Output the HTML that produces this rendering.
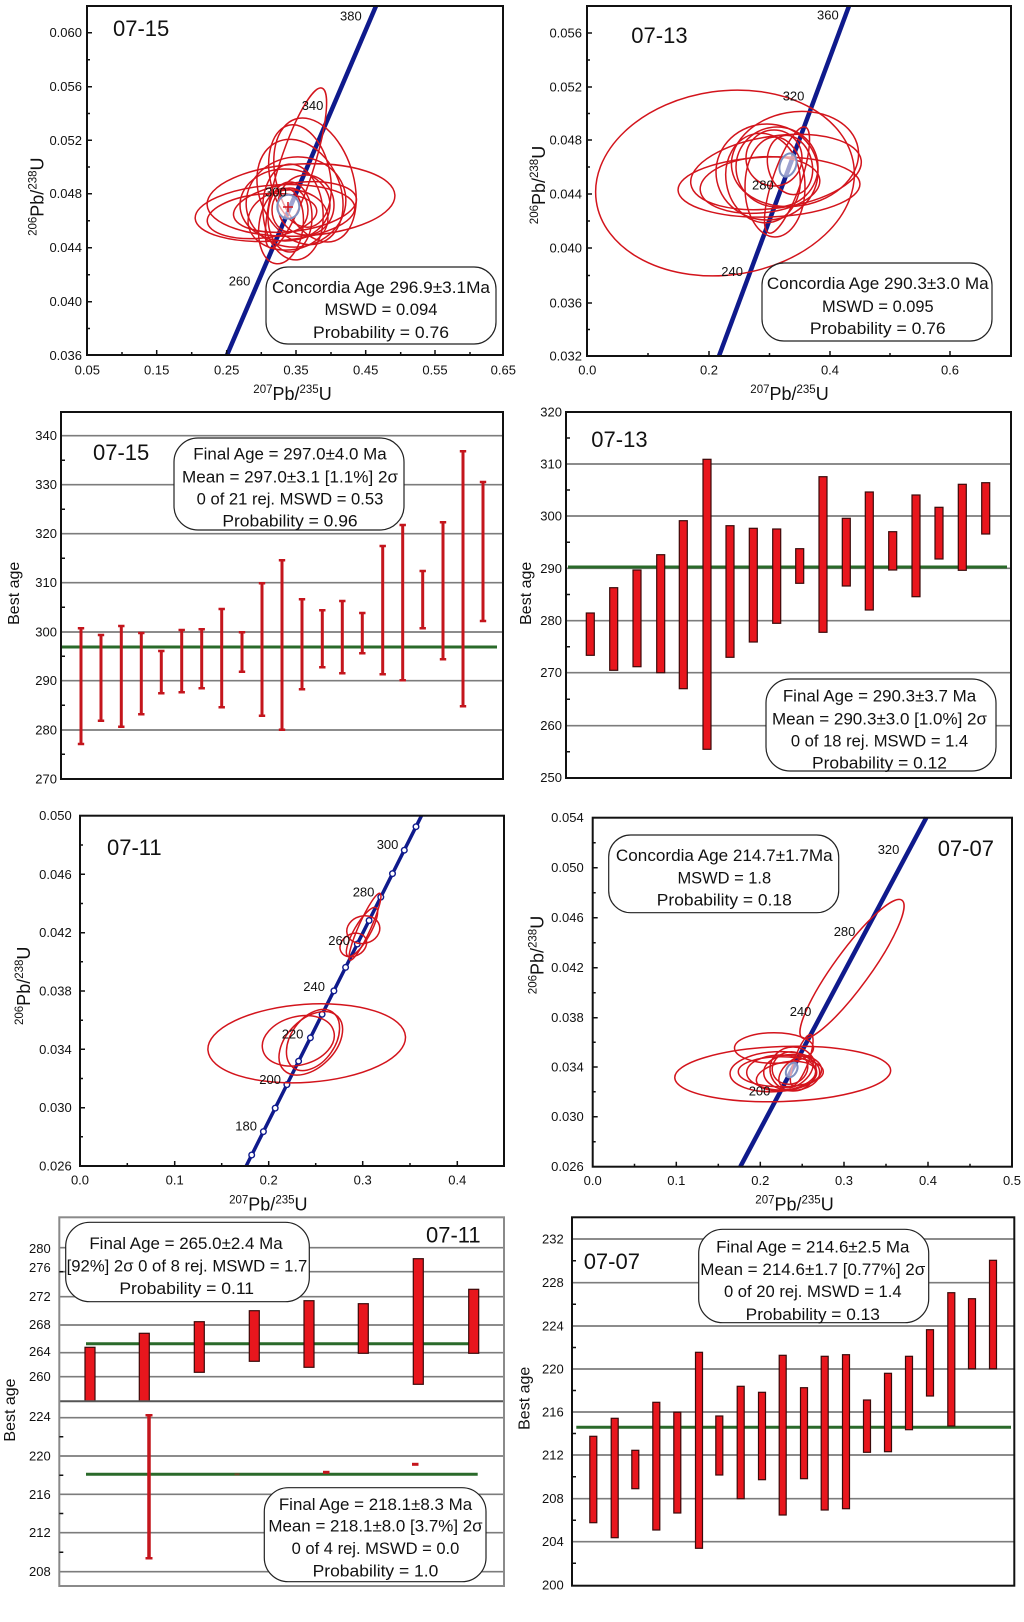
<!DOCTYPE html>
<html><head><meta charset="utf-8">
<style>
html,body{margin:0;padding:0;background:#fff;}
svg{display:block;}
text{font-family:"Liberation Sans",sans-serif;fill:#111;}
.tk{font-size:13px;}
.tr{text-anchor:end;}
.tm{text-anchor:middle;}
.sm{font-size:22px;}
.bx{font-size:17px;text-anchor:middle;}
.cl{font-size:13px;}
.el ellipse{fill:none;stroke:#d3141c;stroke-width:1.5;}
.fr{fill:none;stroke:#111;stroke-width:2;}
.tkp{stroke:#111;stroke-width:1.5;fill:none;}
.gr{stroke:#7c7c7c;stroke-width:1.7;}
.box{fill:#fff;stroke:#222;stroke-width:1.2;}
.cc{stroke:#0f1a8c;stroke-width:4.5;stroke-linecap:butt;}
.gl{stroke:#2a6a2a;stroke-width:3;}
.rb{fill:#e8161d;stroke:#3a0a0a;stroke-width:1.2;}
.eb{stroke:#c4151c;stroke-width:3;}
.ec{stroke:#c4151c;stroke-width:2.5;}
.ce{fill:#fff;fill-opacity:0.6;stroke:#7f8fc0;stroke-width:2;}
</style></head>
<body>
<svg width="1024" height="1622" viewBox="0 0 1024 1622" xmlns="http://www.w3.org/2000/svg">
<rect width="1024" height="1622" fill="#fff"/>

<!-- ================= PANEL 1 (07-15 concordia) ================= -->
<line class="cc" x1="227" y1="355" x2="376" y2="6"/>
<g class="el">
<ellipse cx="275" cy="213" rx="80" ry="28" transform="rotate(-4 275 213)"/>
<ellipse cx="301" cy="200" rx="94" ry="36" transform="rotate(-3 301 200)"/>
<ellipse cx="262" cy="216" rx="55" ry="22" transform="rotate(-6 262 216)"/>
<ellipse cx="296" cy="168" rx="84" ry="17" transform="rotate(-72 296 168)"/>
<ellipse cx="315" cy="180" rx="38" ry="64" transform="rotate(-18 315 180)"/>
<ellipse cx="300" cy="176" rx="30" ry="52" transform="rotate(-12 300 176)"/>
<ellipse cx="285" cy="205" rx="45" ry="36"/>
<ellipse cx="293" cy="212" rx="30" ry="48" transform="rotate(-5 293 212)"/>
<ellipse cx="290" cy="217" rx="22" ry="35"/>
<ellipse cx="306" cy="205" rx="28" ry="30"/>
<ellipse cx="281" cy="226" rx="22" ry="38" transform="rotate(8 281 226)"/>
<ellipse cx="295" cy="207" rx="62" ry="24" transform="rotate(-8 295 207)"/>
<ellipse cx="300" cy="192" rx="40" ry="55" transform="rotate(-25 300 192)"/>
<ellipse cx="290" cy="210" rx="18" ry="22"/>
<ellipse cx="296" cy="202" rx="50" ry="45" transform="rotate(-10 296 202)"/>
<ellipse cx="288" cy="220" rx="40" ry="30" transform="rotate(-5 288 220)"/>
</g>
<ellipse class="ce" cx="288.3" cy="206.7" rx="11" ry="12"/>
<path d="M283 207h10M288 202v10" stroke="#d3141c" stroke-width="1.5"/>
<rect class="fr" x="87" y="6" width="416" height="349"/>
<path class="tkp" d="M87 32.7h5M87 86.7h5M87 140.3h5M87 193.7h5M87 247.7h5M87 301.7h5M87 59.7h3M87 113.5h3M87 167h3M87 220.7h3M87 274.7h3M87 328.5h3M156.7 355v-5M226.7 355v-5M296 355v-5M365.7 355v-5M435 355v-5M122 355v-3M191.7 355v-3M261.3 355v-3M331 355v-3M400.7 355v-3M470 355v-3"/>
<g class="tk tr">
<text x="82" y="37.2">0.060</text><text x="82" y="91.2">0.056</text><text x="82" y="144.8">0.052</text><text x="82" y="198.2">0.048</text><text x="82" y="252.2">0.044</text><text x="82" y="306.2">0.040</text><text x="82" y="359.8">0.036</text>
</g>
<g class="tk tm">
<text x="87.3" y="374.5">0.05</text><text x="156.7" y="374.5">0.15</text><text x="226.7" y="374.5">0.25</text><text x="296" y="374.5">0.35</text><text x="365.7" y="374.5">0.45</text><text x="435" y="374.5">0.55</text><text x="503.3" y="374.5">0.65</text>
</g>
<text class="sm" x="113" y="36">07-15</text>
<g class="cl"><text x="340" y="20.7">380</text><text x="301.7" y="110">340</text><text x="265" y="196.7">300</text><text x="228.7" y="285.7">260</text></g>
<rect class="box" x="266" y="267" width="230" height="77" rx="22"/>
<text class="bx" x="381" y="293" textLength="218" lengthAdjust="spacingAndGlyphs">Concordia Age 296.9±3.1Ma</text>
<text class="bx" x="381" y="315" textLength="113" lengthAdjust="spacingAndGlyphs">MSWD = 0.094</text>
<text class="bx" x="381" y="338" textLength="136" lengthAdjust="spacingAndGlyphs">Probability = 0.76</text>
<text text-anchor="middle" x="292.5" y="400"><tspan font-size="11.5" dy="-7">207</tspan><tspan font-size="18" dy="7">Pb/</tspan><tspan font-size="11.5" dy="-7">235</tspan><tspan font-size="18" dy="7">U</tspan></text>
<text text-anchor="middle" transform="translate(43.5 196.7) rotate(-90)"><tspan font-size="11.5" dy="-7">206</tspan><tspan font-size="18" dy="7">Pb/</tspan><tspan font-size="11.5" dy="-7">238</tspan><tspan font-size="18" dy="7">U</tspan></text>

<!-- ================= PANEL 2 (07-13 concordia) ================= -->
<line class="cc" x1="719" y1="356" x2="849" y2="6"/>
<g class="el">
<ellipse cx="725" cy="183" rx="130" ry="92" transform="rotate(-8 725 183)"/>
<ellipse cx="769" cy="187" rx="91" ry="30" transform="rotate(-2 769 187)"/>
<ellipse cx="776" cy="172" rx="86" ry="36" transform="rotate(-8 776 172)"/>
<ellipse cx="795" cy="159" rx="64" ry="47" transform="rotate(-10 795 159)"/>
<ellipse cx="767" cy="172" rx="51" ry="48"/>
<ellipse cx="777" cy="167" rx="41" ry="40"/>
<ellipse cx="787" cy="180" rx="56" ry="14" transform="rotate(-71 787 180)"/>
<ellipse cx="774" cy="158" rx="28" ry="28"/>
<ellipse cx="775" cy="187" rx="30" ry="50"/>
<ellipse cx="763" cy="178" rx="37" ry="45" transform="rotate(-10 763 178)"/>
<ellipse cx="790" cy="165" rx="22" ry="30" transform="rotate(-15 790 165)"/>
<ellipse cx="760" cy="185" rx="60" ry="28" transform="rotate(-5 760 185)"/>
</g>
<ellipse class="ce" cx="788" cy="165" rx="8" ry="12" transform="rotate(20 788 165)"/>
<rect class="fr" x="587" y="6" width="424" height="350"/>
<path class="tkp" d="M587 33h5M587 87h5M587 140h5M587 194h5M587 248h5M587 303h5M587 60h3M587 113.5h3M587 167h3M587 221h3M587 275.5h3M587 329.5h3M709 356v-5M830 356v-5M950 356v-5M648 356v-3M769.5 356v-3M890 356v-3"/>
<g class="tk tr">
<text x="582" y="37.5">0.056</text><text x="582" y="91.5">0.052</text><text x="582" y="144.5">0.048</text><text x="582" y="198.5">0.044</text><text x="582" y="252.5">0.040</text><text x="582" y="307.5">0.036</text><text x="582" y="360.5">0.032</text>
</g>
<g class="tk tm">
<text x="587.3" y="374.5">0.0</text><text x="709" y="374.5">0.2</text><text x="830" y="374.5">0.4</text><text x="950" y="374.5">0.6</text>
</g>
<text class="sm" x="631.3" y="43">07-13</text>
<g class="cl"><text x="817" y="19.3">360</text><text x="782.7" y="100.7">320</text><text x="752" y="189.3">280</text><text x="721.3" y="276">240</text></g>
<rect class="box" x="762" y="263" width="230" height="78" rx="22"/>
<text class="bx" x="877.8" y="289" textLength="221.7" lengthAdjust="spacingAndGlyphs">Concordia Age 290.3±3.0 Ma</text>
<text class="bx" x="877.8" y="312" textLength="111.7" lengthAdjust="spacingAndGlyphs">MSWD = 0.095</text>
<text class="bx" x="877.8" y="334" textLength="135.7" lengthAdjust="spacingAndGlyphs">Probability = 0.76</text>
<text text-anchor="middle" x="789.5" y="400"><tspan font-size="11.5" dy="-7">207</tspan><tspan font-size="18" dy="7">Pb/</tspan><tspan font-size="11.5" dy="-7">235</tspan><tspan font-size="18" dy="7">U</tspan></text>
<text text-anchor="middle" transform="translate(545 185) rotate(-90)"><tspan font-size="11.5" dy="-7">206</tspan><tspan font-size="18" dy="7">Pb/</tspan><tspan font-size="11.5" dy="-7">238</tspan><tspan font-size="18" dy="7">U</tspan></text>

<!-- ================= PANEL 3 (07-15 ages) ================= -->
<g class="gr">
<line x1="61" x2="503" y1="435.7" y2="435.7"/><line x1="61" x2="503" y1="484.7" y2="484.7"/><line x1="61" x2="503" y1="533.7" y2="533.7"/><line x1="61" x2="503" y1="582.7" y2="582.7"/><line x1="61" x2="503" y1="632" y2="632"/><line x1="61" x2="503" y1="680.7" y2="680.7"/><line x1="61" x2="503" y1="730" y2="730"/>
</g>
<line class="gl" x1="62" x2="497" y1="647" y2="647"/>
<g>
<line class="eb" x1="81" x2="81" y1="628.3" y2="744"/>
<line class="eb" x1="101" x2="101" y1="635" y2="720.7"/>
<line class="eb" x1="121.3" x2="121.3" y1="626" y2="726.7"/>
<line class="eb" x1="141.3" x2="141.3" y1="633" y2="714.3"/>
<line class="eb" x1="161.3" x2="161.3" y1="651" y2="693.3"/>
<line class="eb" x1="181.7" x2="181.7" y1="630" y2="692.3"/>
<line class="eb" x1="201.7" x2="201.7" y1="629.3" y2="688.3"/>
<line class="eb" x1="221.7" x2="221.7" y1="609" y2="707.3"/>
<line class="eb" x1="242" x2="242" y1="632.3" y2="671.7"/>
<line class="eb" x1="262" x2="262" y1="583.3" y2="715.7"/>
<line class="eb" x1="282" x2="282" y1="560.3" y2="729.7"/>
<line class="eb" x1="302" x2="302" y1="599.3" y2="689.3"/>
<line class="eb" x1="322.3" x2="322.3" y1="610.3" y2="667.3"/>
<line class="eb" x1="342.3" x2="342.3" y1="601" y2="673.3"/>
<line class="eb" x1="362.3" x2="362.3" y1="613" y2="653.3"/>
<line class="eb" x1="382.7" x2="382.7" y1="546" y2="674.3"/>
<line class="eb" x1="402.7" x2="402.7" y1="525" y2="680.3"/>
<line class="eb" x1="422.7" x2="422.7" y1="571" y2="628.3"/>
<line class="eb" x1="443" x2="443" y1="522.3" y2="659.3"/>
<line class="eb" x1="463" x2="463" y1="451.3" y2="706.3"/>
<line class="eb" x1="483" x2="483" y1="482" y2="621"/>
</g>
<path class="ec" d="M77.8 628.3h6.4M77.8 744h6.4M97.8 635h6.4M97.8 720.7h6.4M118.1 626h6.4M118.1 726.7h6.4M138.1 633h6.4M138.1 714.3h6.4M158.1 651h6.4M158.1 693.3h6.4M178.5 630h6.4M178.5 692.3h6.4M198.5 629.3h6.4M198.5 688.3h6.4M218.5 609h6.4M218.5 707.3h6.4M238.8 632.3h6.4M238.8 671.7h6.4M258.8 583.3h6.4M258.8 715.7h6.4M278.8 560.3h6.4M278.8 729.7h6.4M298.8 599.3h6.4M298.8 689.3h6.4M319.1 610.3h6.4M319.1 667.3h6.4M339.1 601h6.4M339.1 673.3h6.4M359.1 613h6.4M359.1 653.3h6.4M379.5 546h6.4M379.5 674.3h6.4M399.5 525h6.4M399.5 680.3h6.4M419.5 571h6.4M419.5 628.3h6.4M439.8 522.3h6.4M439.8 659.3h6.4M459.8 451.3h6.4M459.8 706.3h6.4M479.8 482h6.4M479.8 621h6.4"/>
<rect class="fr" x="61" y="412" width="442" height="367"/>
<path class="tkp" d="M61 460.2h4M61 509.2h4M61 558.2h4M61 607.3h4M61 656.3h4M61 705.3h4M61 754.3h4"/>
<g class="tk tr">
<text x="57" y="440.2">340</text><text x="57" y="489.2">330</text><text x="57" y="538.2">320</text><text x="57" y="587.2">310</text><text x="57" y="636.5">300</text><text x="57" y="685.2">290</text><text x="57" y="734.5">280</text><text x="57" y="783.5">270</text>
</g>
<text class="sm" x="93" y="460">07-15</text>
<rect class="box" x="174" y="438" width="230" height="92" rx="24"/>
<text class="bx" x="290" y="459.5" textLength="193.4" lengthAdjust="spacingAndGlyphs">Final Age = 297.0±4.0 Ma</text>
<text class="bx" x="290" y="482.5" textLength="216" lengthAdjust="spacingAndGlyphs">Mean = 297.0±3.1 [1.1%] 2σ</text>
<text class="bx" x="290" y="504.5" textLength="186.7" lengthAdjust="spacingAndGlyphs">0 of 21 rej. MSWD = 0.53</text>
<text class="bx" x="290" y="526.5" textLength="135.3" lengthAdjust="spacingAndGlyphs">Probability = 0.96</text>
<text font-size="16" text-anchor="middle" transform="translate(19 593.3) rotate(-90)">Best age</text>

<!-- ================= PANEL 4 (07-13 ages) ================= -->
<g class="gr">
<line x1="566" x2="1011" y1="464" y2="464"/><line x1="566" x2="1011" y1="516" y2="516"/><line x1="566" x2="1011" y1="568.3" y2="568.3"/><line x1="566" x2="1011" y1="620.7" y2="620.7"/><line x1="566" x2="1011" y1="672.7" y2="672.7"/><line x1="566" x2="1011" y1="725.7" y2="725.7"/>
</g>
<line class="gl" x1="568" x2="1007" y1="567" y2="567"/>
<g class="rb">
<rect x="586.3" y="613" width="8" height="42.3"/>
<rect x="609.7" y="587.7" width="8" height="82.6"/>
<rect x="633" y="570" width="8" height="96.7"/>
<rect x="656.7" y="554.7" width="8" height="118"/>
<rect x="679.3" y="520.7" width="8" height="168"/>
<rect x="703" y="459.3" width="8" height="290"/>
<rect x="726" y="525.7" width="8" height="131.6"/>
<rect x="749.3" y="528.3" width="8" height="113.7"/>
<rect x="772.7" y="529" width="8" height="94.3"/>
<rect x="795.7" y="548.7" width="8" height="34.6"/>
<rect x="819" y="476.7" width="8" height="155.6"/>
<rect x="842.3" y="518.3" width="8" height="67.7"/>
<rect x="865.3" y="492" width="8" height="118"/>
<rect x="888.7" y="531.7" width="8" height="38.3"/>
<rect x="912" y="495" width="8" height="101.7"/>
<rect x="935" y="507.3" width="8" height="51.7"/>
<rect x="958.3" y="484.3" width="8" height="86"/>
<rect x="981.7" y="482.7" width="8" height="51.3"/>
</g>
<rect class="fr" x="566" y="412" width="445" height="366"/>
<path class="tkp" d="M566 438h4M566 490h4M566 542.2h4M566 594.5h4M566 646.7h4M566 699.2h4M566 751.7h4"/>
<g class="tk tr">
<text x="562" y="416.5">320</text><text x="562" y="468.5">310</text><text x="562" y="520.5">300</text><text x="562" y="572.8">290</text><text x="562" y="625.2">280</text><text x="562" y="677.2">270</text><text x="562" y="730.2">260</text><text x="562" y="782.2">250</text>
</g>
<text class="sm" x="591.3" y="447">07-13</text>
<rect class="box" x="766" y="679" width="230" height="92" rx="24"/>
<text class="bx" x="879.5" y="701.5" textLength="193.3" lengthAdjust="spacingAndGlyphs">Final Age = 290.3±3.7 Ma</text>
<text class="bx" x="879.5" y="724.5" textLength="215" lengthAdjust="spacingAndGlyphs">Mean = 290.3±3.0 [1.0%] 2σ</text>
<text class="bx" x="879.5" y="746.5" textLength="177.3" lengthAdjust="spacingAndGlyphs">0 of 18 rej. MSWD = 1.4</text>
<text class="bx" x="879.5" y="768.5" textLength="135" lengthAdjust="spacingAndGlyphs">Probability = 0.12</text>
<text font-size="16" text-anchor="middle" transform="translate(531 593.3) rotate(-90)">Best age</text>

<!-- ================= PANEL 5 (07-11 concordia) ================= -->
<line class="cc" style="stroke-width:3.5" x1="246.2" y1="1166" x2="421.5" y2="815.7"/>
<g fill="#fff" stroke="#0f1a8c" stroke-width="1.4">
<circle cx="251.7" cy="1155" r="2.8"/><circle cx="263.4" cy="1131.6" r="2.8"/><circle cx="275.2" cy="1108.1" r="2.8"/><circle cx="286.9" cy="1084.6" r="2.8"/><circle cx="298.6" cy="1061.2" r="2.8"/><circle cx="310.4" cy="1037.8" r="2.8"/><circle cx="322.1" cy="1014.3" r="2.8"/><circle cx="333.9" cy="990.9" r="2.8"/><circle cx="345.6" cy="967.4" r="2.8"/><circle cx="357.3" cy="944" r="2.8"/><circle cx="369.1" cy="920.5" r="2.8"/><circle cx="380.8" cy="897.1" r="2.8"/><circle cx="392.5" cy="873.6" r="2.8"/><circle cx="404.3" cy="850.2" r="2.8"/><circle cx="416" cy="826.7" r="2.8"/>
</g>
<g class="el">
<ellipse cx="306.7" cy="1043.3" rx="99" ry="39" transform="rotate(-4 306.7 1043.3)"/>
<ellipse cx="298.3" cy="1040.8" rx="36.7" ry="24.2" transform="rotate(-15 298.3 1040.8)"/>
<ellipse cx="310.8" cy="1043.3" rx="38" ry="24" transform="rotate(-45 310.8 1043.3)"/>
<ellipse cx="313" cy="1040" rx="34" ry="22" transform="rotate(-55 313 1040)"/>
<ellipse cx="363.3" cy="929.7" rx="16.7" ry="13.7" transform="rotate(-15 363.3 929.7)"/>
<ellipse cx="365" cy="926.7" rx="36.6" ry="6" transform="rotate(-65.8 365 926.7)"/>
<ellipse cx="362" cy="932" rx="28" ry="8" transform="rotate(-60 362 932)"/>
<ellipse cx="353.3" cy="945" rx="14" ry="11" transform="rotate(-30 353.3 945)"/>
</g>
<rect class="fr" x="80" y="815.7" width="424" height="350.3"/>
<path class="tkp" d="M80 874.3h5M80 932.7h5M80 991h5M80 1049.3h5M80 1107.7h5M80 845h3M80 903.5h3M80 961.8h3M80 1020.2h3M80 1078.5h3M80 1136.8h3M174.7 1166v-5M268.7 1166v-5M362.7 1166v-5M457.3 1166v-5M127.3 1166v-3M221.7 1166v-3M315.7 1166v-3M410 1166v-3"/>
<g class="tk tr">
<text x="71.7" y="820.2">0.050</text><text x="71.7" y="878.8">0.046</text><text x="71.7" y="937.2">0.042</text><text x="71.7" y="995.5">0.038</text><text x="71.7" y="1053.8">0.034</text><text x="71.7" y="1112.2">0.030</text><text x="71.7" y="1170.5">0.026</text>
</g>
<g class="tk tm">
<text x="80" y="1184.5">0.0</text><text x="174.7" y="1184.5">0.1</text><text x="268.7" y="1184.5">0.2</text><text x="362.7" y="1184.5">0.3</text><text x="457.3" y="1184.5">0.4</text>
</g>
<text class="sm" x="107" y="855">07-11</text>
<g class="cl"><text x="376.7" y="849">300</text><text x="352.7" y="896.7">280</text><text x="328.3" y="945">260</text><text x="303.3" y="991">240</text><text x="281.7" y="1038.3">220</text><text x="259.3" y="1084">200</text><text x="235.3" y="1130.7">180</text></g>
<text text-anchor="middle" x="268.3" y="1210.5"><tspan font-size="11.5" dy="-7">207</tspan><tspan font-size="18" dy="7">Pb/</tspan><tspan font-size="11.5" dy="-7">235</tspan><tspan font-size="18" dy="7">U</tspan></text>
<text text-anchor="middle" transform="translate(30 985.8) rotate(-90)"><tspan font-size="11.5" dy="-7">206</tspan><tspan font-size="18" dy="7">Pb/</tspan><tspan font-size="11.5" dy="-7">238</tspan><tspan font-size="18" dy="7">U</tspan></text>

<!-- ================= PANEL 6 (07-07 concordia) ================= -->
<line class="cc" x1="740.3" y1="1166.7" x2="926.3" y2="817.7"/>
<g class="el">
<ellipse cx="852" cy="969" rx="85" ry="18" transform="rotate(-54 852 969)"/>
<ellipse cx="782.7" cy="1074" rx="108" ry="27.5" transform="rotate(-2 782.7 1074)"/>
<ellipse cx="774" cy="1048" rx="39.5" ry="15.3"/>
<ellipse cx="775.8" cy="1071.7" rx="45.8" ry="20" transform="rotate(-3 775.8 1071.7)"/>
<ellipse cx="780.8" cy="1071.7" rx="42.5" ry="15"/>
<ellipse cx="781.7" cy="1072.5" rx="35" ry="17.5"/>
<ellipse cx="791.7" cy="1072.5" rx="28" ry="18"/>
<ellipse cx="793" cy="1069" rx="23" ry="22"/>
<ellipse cx="790" cy="1068" rx="18" ry="16" transform="rotate(-20 790 1068)"/>
<ellipse cx="801.7" cy="1060" rx="27" ry="7" transform="rotate(-70 801.7 1060)"/>
<ellipse cx="796" cy="1072" rx="20" ry="12" transform="rotate(-40 796 1072)"/>
<ellipse cx="786" cy="1076" rx="30" ry="14" transform="rotate(-10 786 1076)"/>
</g>
<ellipse class="ce" cx="791.7" cy="1070" rx="5" ry="8" transform="rotate(30 791.7 1070)"/>
<rect class="fr" x="592.7" y="817.7" width="419.3" height="349"/>
<path class="tkp" d="M592.7 867.7h5M592.7 917.7h5M592.7 967.7h5M592.7 1017.7h5M592.7 1067h5M592.7 1116.7h5M592.7 842.7h3M592.7 892.7h3M592.7 942.7h3M592.7 992.7h3M592.7 1042.3h3M592.7 1091.8h3M592.7 1141.7h3M676.3 1166.7v-5M760.3 1166.7v-5M844 1166.7v-5M928 1166.7v-5M634.5 1166.7v-3M718.3 1166.7v-3M802.2 1166.7v-3M886 1166.7v-3M970 1166.7v-3"/>
<g class="tk tr">
<text x="583.7" y="822.2">0.054</text><text x="583.7" y="872.2">0.050</text><text x="583.7" y="922.2">0.046</text><text x="583.7" y="972.2">0.042</text><text x="583.7" y="1022.2">0.038</text><text x="583.7" y="1071.5">0.034</text><text x="583.7" y="1121.2">0.030</text><text x="583.7" y="1171.2">0.026</text>
</g>
<g class="tk tm">
<text x="592.7" y="1185">0.0</text><text x="676.3" y="1185">0.1</text><text x="760.3" y="1185">0.2</text><text x="844" y="1185">0.3</text><text x="928" y="1185">0.4</text><text x="1012" y="1185">0.5</text>
</g>
<text class="sm" x="937.7" y="856">07-07</text>
<g class="cl"><text x="877.7" y="854">320</text><text x="833.7" y="936">280</text><text x="789.7" y="1016">240</text><text x="748.7" y="1095.7">200</text></g>
<rect class="box" x="608.7" y="835" width="230" height="77.7" rx="22"/>
<text class="bx" x="724.3" y="861" textLength="216.7" lengthAdjust="spacingAndGlyphs">Concordia Age 214.7±1.7Ma</text>
<text class="bx" x="724.3" y="883.5" textLength="93.7" lengthAdjust="spacingAndGlyphs">MSWD = 1.8</text>
<text class="bx" x="724.3" y="905.5" textLength="135" lengthAdjust="spacingAndGlyphs">Probability = 0.18</text>
<text text-anchor="middle" x="794.5" y="1210.5"><tspan font-size="11.5" dy="-7">207</tspan><tspan font-size="18" dy="7">Pb/</tspan><tspan font-size="11.5" dy="-7">235</tspan><tspan font-size="18" dy="7">U</tspan></text>
<text text-anchor="middle" transform="translate(543.7 955) rotate(-90)"><tspan font-size="11.5" dy="-7">206</tspan><tspan font-size="18" dy="7">Pb/</tspan><tspan font-size="11.5" dy="-7">238</tspan><tspan font-size="18" dy="7">U</tspan></text>

<!-- ================= PANEL 7 (07-11 ages) ================= -->
<g class="gr">
<line x1="59.3" x2="504" y1="1247.7" y2="1247.7"/><line x1="59.3" x2="504" y1="1271.7" y2="1271.7"/><line x1="59.3" x2="504" y1="1296.7" y2="1296.7"/><line x1="59.3" x2="504" y1="1325" y2="1325"/><line x1="59.3" x2="504" y1="1352.7" y2="1352.7"/><line x1="59.3" x2="504" y1="1376.7" y2="1376.7"/>
<line x1="59.3" x2="504" y1="1417.7" y2="1417.7"/><line x1="59.3" x2="504" y1="1456" y2="1456"/><line x1="59.3" x2="504" y1="1494.3" y2="1494.3"/><line x1="59.3" x2="504" y1="1532.7" y2="1532.7"/><line x1="59.3" x2="504" y1="1571.7" y2="1571.7"/>
</g>
<line class="gl" x1="86" x2="477.7" y1="1343.7" y2="1343.7"/>
<line class="gl" x1="86" x2="477.7" y1="1474.3" y2="1474.3"/>
<g class="rb">
<rect x="85" y="1347.3" width="10" height="54"/>
<rect x="139.3" y="1333.3" width="10" height="68"/>
<rect x="194.3" y="1321.7" width="10" height="50.6"/>
<rect x="249.3" y="1310.7" width="10" height="50.6"/>
<rect x="304" y="1300.7" width="10" height="66.6"/>
<rect x="358.3" y="1303.7" width="10" height="49.6"/>
<rect x="413.3" y="1258.7" width="10" height="125.6"/>
<rect x="468.7" y="1289.3" width="10" height="64"/>
</g>
<line x1="149" x2="149" y1="1415.3" y2="1558.3" stroke="#c4151c" stroke-width="3.5"/>
<path class="ec" d="M145.5 1415.3h7M145.5 1558.3h7"/>
<rect x="234.5" y="1473.3" width="5" height="2" fill="#6a4a2a"/>
<rect x="323" y="1470.8" width="6.5" height="3" fill="#c4151c"/>
<rect x="412" y="1462.8" width="6.5" height="3" fill="#c4151c"/>
<line x1="59.3" x2="504" y1="1401.3" y2="1401.3" stroke="#555" stroke-width="2"/>
<rect x="59.3" y="1217.3" width="444.7" height="368.7" fill="none" stroke="#8a8a8a" stroke-width="2"/>
<path class="tkp" d="M59.3 1271.7h4M59.3 1436.8h4M59.3 1475.2h4M59.3 1513.5h4M59.3 1552.2h4"/>
<g class="tk tr">
<text x="50.7" y="1252.8">280</text><text x="50.7" y="1272.2">276</text><text x="50.7" y="1301.2">272</text><text x="50.7" y="1328.8">268</text><text x="50.7" y="1356.2">264</text><text x="50.7" y="1381.2">260</text>
<text x="50.7" y="1421.2">224</text><text x="50.7" y="1460.5">220</text><text x="50.7" y="1498.8">216</text><text x="50.7" y="1537.2">212</text><text x="50.7" y="1576.2">208</text>
</g>
<text class="sm" x="426" y="1242.7">07-11</text>
<rect class="box" x="65.7" y="1222.3" width="243.6" height="79.4" rx="24"/>
<text class="bx" x="186" y="1248.8" textLength="193.3" lengthAdjust="spacingAndGlyphs">Final Age = 265.0±2.4 Ma</text>
<text class="bx" x="187" y="1271.5" textLength="240.7" lengthAdjust="spacingAndGlyphs">[92%] 2σ 0 of 8 rej. MSWD = 1.7</text>
<text class="bx" x="186.7" y="1293.8" textLength="134.7" lengthAdjust="spacingAndGlyphs">Probability = 0.11</text>
<rect class="box" x="264.3" y="1487.7" width="221.7" height="94" rx="24"/>
<text class="bx" x="375.5" y="1509.8" textLength="193.3" lengthAdjust="spacingAndGlyphs">Final Age = 218.1±8.3 Ma</text>
<text class="bx" x="375.5" y="1531.5" textLength="214.3" lengthAdjust="spacingAndGlyphs">Mean = 218.1±8.0 [3.7%] 2σ</text>
<text class="bx" x="375.5" y="1554.2" textLength="167.7" lengthAdjust="spacingAndGlyphs">0 of 4 rej. MSWD = 0.0</text>
<text class="bx" x="375.5" y="1576.5" textLength="125.7" lengthAdjust="spacingAndGlyphs">Probability = 1.0</text>
<text font-size="16" text-anchor="middle" transform="translate(15 1410) rotate(-90)">Best age</text>

<!-- ================= PANEL 8 (07-07 ages) ================= -->
<g class="gr">
<line x1="572" x2="1014.3" y1="1239" y2="1239"/><line x1="572" x2="1014.3" y1="1282.7" y2="1282.7"/><line x1="572" x2="1014.3" y1="1326" y2="1326"/><line x1="572" x2="1014.3" y1="1369" y2="1369"/><line x1="572" x2="1014.3" y1="1412" y2="1412"/><line x1="572" x2="1014.3" y1="1455" y2="1455"/><line x1="572" x2="1014.3" y1="1498.7" y2="1498.7"/><line x1="572" x2="1014.3" y1="1541.7" y2="1541.7"/>
</g>
<line class="gl" x1="576.3" x2="1011" y1="1427.3" y2="1427.3"/>
<g class="rb">
<rect x="589.8" y="1436.3" width="7" height="86.4"/>
<rect x="611.2" y="1418.3" width="7" height="119.4"/>
<rect x="631.8" y="1450.3" width="7" height="38.4"/>
<rect x="652.8" y="1402.3" width="7" height="127.7"/>
<rect x="673.8" y="1412.3" width="7" height="100.7"/>
<rect x="695.5" y="1352.3" width="7" height="196"/>
<rect x="715.8" y="1416" width="7" height="59"/>
<rect x="737.2" y="1386.3" width="7" height="112.4"/>
<rect x="758.5" y="1392.3" width="7" height="87.4"/>
<rect x="779.2" y="1355.3" width="7" height="159.7"/>
<rect x="800.5" y="1387.7" width="7" height="91"/>
<rect x="821.2" y="1356.3" width="7" height="153.7"/>
<rect x="842.5" y="1354.7" width="7" height="154"/>
<rect x="863.5" y="1400" width="7" height="52.3"/>
<rect x="884.5" y="1373.3" width="7" height="78.4"/>
<rect x="905.5" y="1356.3" width="7" height="73.4"/>
<rect x="926.5" y="1329.7" width="7" height="66.3"/>
<rect x="947.8" y="1292.7" width="7" height="133.3"/>
<rect x="968.5" y="1298.7" width="7" height="70"/>
<rect x="989.5" y="1260.3" width="7" height="108.4"/>
</g>
<rect class="fr" x="572" y="1217.3" width="442.3" height="368.4"/>
<path class="tkp" d="M572 1260.8h4M572 1304.3h4M572 1347.5h4M572 1390.5h4M572 1433.5h4M572 1476.8h4M572 1520.2h4M572 1563.3h4"/>
<g class="tk tr">
<text x="563.7" y="1243.5">232</text><text x="563.7" y="1287.2">228</text><text x="563.7" y="1330.5">224</text><text x="563.7" y="1373.5">220</text><text x="563.7" y="1416.5">216</text><text x="563.7" y="1459.5">212</text><text x="563.7" y="1503.2">208</text><text x="563.7" y="1546.2">204</text><text x="563.7" y="1589.5">200</text>
</g>
<text class="sm" x="583.7" y="1269">07-07</text>
<rect class="box" x="698.7" y="1229.3" width="230" height="93.4" rx="24"/>
<text class="bx" x="812.8" y="1252.5" textLength="193.3" lengthAdjust="spacingAndGlyphs">Final Age = 214.6±2.5 Ma</text>
<text class="bx" x="812.8" y="1274.8" textLength="225" lengthAdjust="spacingAndGlyphs">Mean = 214.6±1.7 [0.77%] 2σ</text>
<text class="bx" x="812.8" y="1297.2" textLength="177.7" lengthAdjust="spacingAndGlyphs">0 of 20 rej. MSWD = 1.4</text>
<text class="bx" x="812.8" y="1319.8" textLength="134.3" lengthAdjust="spacingAndGlyphs">Probability = 0.13</text>
<text font-size="16" text-anchor="middle" transform="translate(529.7 1398.3) rotate(-90)">Best age</text>
</svg>
</body></html>
